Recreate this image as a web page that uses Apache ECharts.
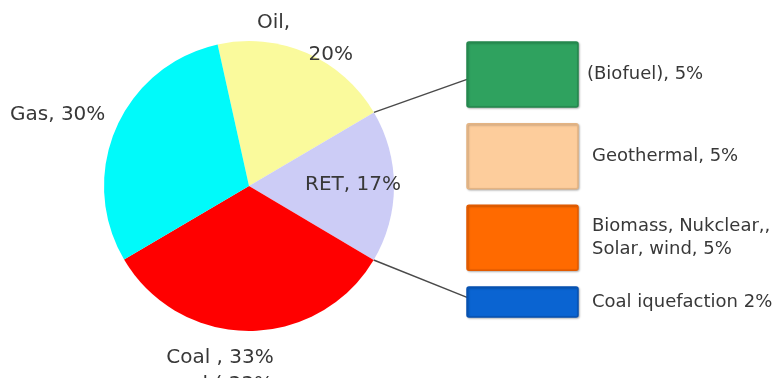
<!DOCTYPE html>
<html>
<head>
<meta charset="utf-8">
<script src="https://cdn.jsdelivr.net/npm/echarts@6/dist/echarts.min.js"></script>
<style>
html,body{margin:0;padding:0;background:#fff;}
#main{width:783px;height:378px;}
</style>
</head>
<body>
<div id="main"></div>
<script>
// ---- data ----
const pieNames = ['Oil', 'RET', 'Coal', 'Gas'];
const pieValues = [20, 17, 33, 30];
const pieColors = ['#FAFA9C', '#CCCCF6', '#FF0000', '#00FAFA'];

const retNames = ['(Biofuel), 5%', 'Geothermal, 5%', 'Biomass, Nukclear,,\nSolar, wind, 5%', 'Coal iquefaction 2%'];
const retValues = [5, 5, 5, 2];
const retColors = ['#2FA25F', '#FDCD9C', '#FF6A00', '#0A64D2'];
const retBorders = ['#23864C', '#E4B483', '#E25A00', '#0650B0'];

// ---- layout ----
const CX = 249, CY = 186, R = 145, START = 102.5;
const GAP = 16.7;      // pixel gap between boxes
const PAD = 2;         // extra axis units given to every box band
const textColor = '#383838';
const fontFamily = '"DejaVu Sans", Verdana, sans-serif';

let cum = 0;
const retData = retValues.map((v, i) => {
  const d = [0, cum, cum + v + PAD, i];
  cum += v + PAD;
  return d;
});
const axisMax = cum;

const chart = echarts.init(document.getElementById('main'), null, {renderer: 'canvas'});

const option = {
  backgroundColor: '#fff',
  animation: false,
  grid: {left: 467, width: 111, top: 42 - GAP / 2, height: 275 + GAP},
  xAxis: {type: 'value', min: 0, max: 1, show: false},
  yAxis: {type: 'value', min: 0, max: axisMax, inverse: true, show: false},
  series: [
    {
      type: 'pie',
      center: [CX, CY],
      radius: R,
      startAngle: START,
      clockwise: true,
      data: pieNames.map((n, i) => ({name: n, value: pieValues[i], itemStyle: {color: pieColors[i]}})),
      label: {
        show: true,
        color: textColor,
        fontFamily: fontFamily,
        fontSize: 20,
        overflow: 'none',
        formatter: function (p) {
          if (p.dataIndex === 0) return '{a|' + p.name + ',}\n{b|' + p.value + '%}';
          if (p.dataIndex === 2) return '{c|' + p.name + ' , ' + p.value + '%}\n{c|coal ( ' + p.value + '%}';
          return p.name + ', ' + p.value + '%';
        },
        rich: {
          a: {width: 96, align: 'left', fontSize: 20, color: textColor, fontFamily: fontFamily, lineHeight: 32},
          b: {width: 96, align: 'right', fontSize: 20, color: textColor, fontFamily: fontFamily, lineHeight: 32},
          c: {fontSize: 20, color: textColor, fontFamily: fontFamily, lineHeight: 27}
        }
      },
      labelLine: {show: false},
      labelLayout: function (p) {
        switch (p.dataIndex) {
          case 0: return {x: 257, y: 39, align: 'left', verticalAlign: 'middle'};
          case 1: return {x: 305, y: 185, align: 'left', verticalAlign: 'middle'};
          case 2: return {x: 220, y: 371, align: 'center', verticalAlign: 'middle'};
          case 3: return {x: 10, y: 115, align: 'left', verticalAlign: 'middle'};
        }
      },
      emphasis: {disabled: true},
      z: 2
    },
    {
      type: 'custom',
      data: retData,
      encode: {x: 0, y: [1, 2]},
      renderItem: function (params, api) {
        const i = api.value(3);
        const p0 = api.coord([0, api.value(1)]);
        const p1 = api.coord([1, api.value(2)]);
        const x = p0[0], y = p0[1] + GAP / 2;
        const w = p1[0] - p0[0], h = p1[1] - p0[1] - GAP;
        return {
          type: 'group',
          children: [
            {
              type: 'rect',
              shape: {x: x, y: y, width: w, height: h, r: 2},
              style: {
                fill: retColors[i], stroke: retBorders[i], lineWidth: 1.5,
                shadowColor: 'rgba(0,0,0,0.25)', shadowBlur: 2, shadowOffsetX: 1, shadowOffsetY: 1
              }
            },
            {
              type: 'text',
              x: x + w + (i === 0 ? 9 : 14),
              y: y + h / 2,
              style: {
                text: retNames[i],
                fill: textColor,
                font: '18px ' + fontFamily,
                textAlign: 'left',
                textVerticalAlign: 'middle',
                lineHeight: 23
              }
            }
          ]
        };
      },
      z: 3
    }
  ]
};
chart.setOption(option);

// connector lines from pie (RET slice edges) to the RET breakdown boxes
function boundaryPoint(idx) {
  const total = pieValues.reduce((a, b) => a + b, 0);
  let c = 0;
  for (let k = 0; k < idx; k++) c += pieValues[k];
  const ang = (START - 360 * c / total) * Math.PI / 180;
  return [CX + R * Math.cos(ang), CY - R * Math.sin(ang)];
}
const retIdx = pieNames.indexOf('RET');
const pTop = boundaryPoint(retIdx);
const pBot = boundaryPoint(retIdx + 1);
const first = retData[0], last = retData[retData.length - 1];
const qTop = chart.convertToPixel({gridIndex: 0}, [0, first[1] + (first[2] - first[1]) * 0.56]);
const qBot = chart.convertToPixel({gridIndex: 0}, [0, last[1] + (last[2] - last[1]) * 0.4]);
chart.setOption({
  graphic: [
    {type: 'line', z: 1, shape: {x1: pTop[0], y1: pTop[1], x2: qTop[0], y2: qTop[1]}, style: {stroke: '#4a4a4a', lineWidth: 1.5}},
    {type: 'line', z: 1, shape: {x1: pBot[0], y1: pBot[1], x2: qBot[0], y2: qBot[1]}, style: {stroke: '#4a4a4a', lineWidth: 1.5}}
  ]
});
</script>
</body>
</html>
